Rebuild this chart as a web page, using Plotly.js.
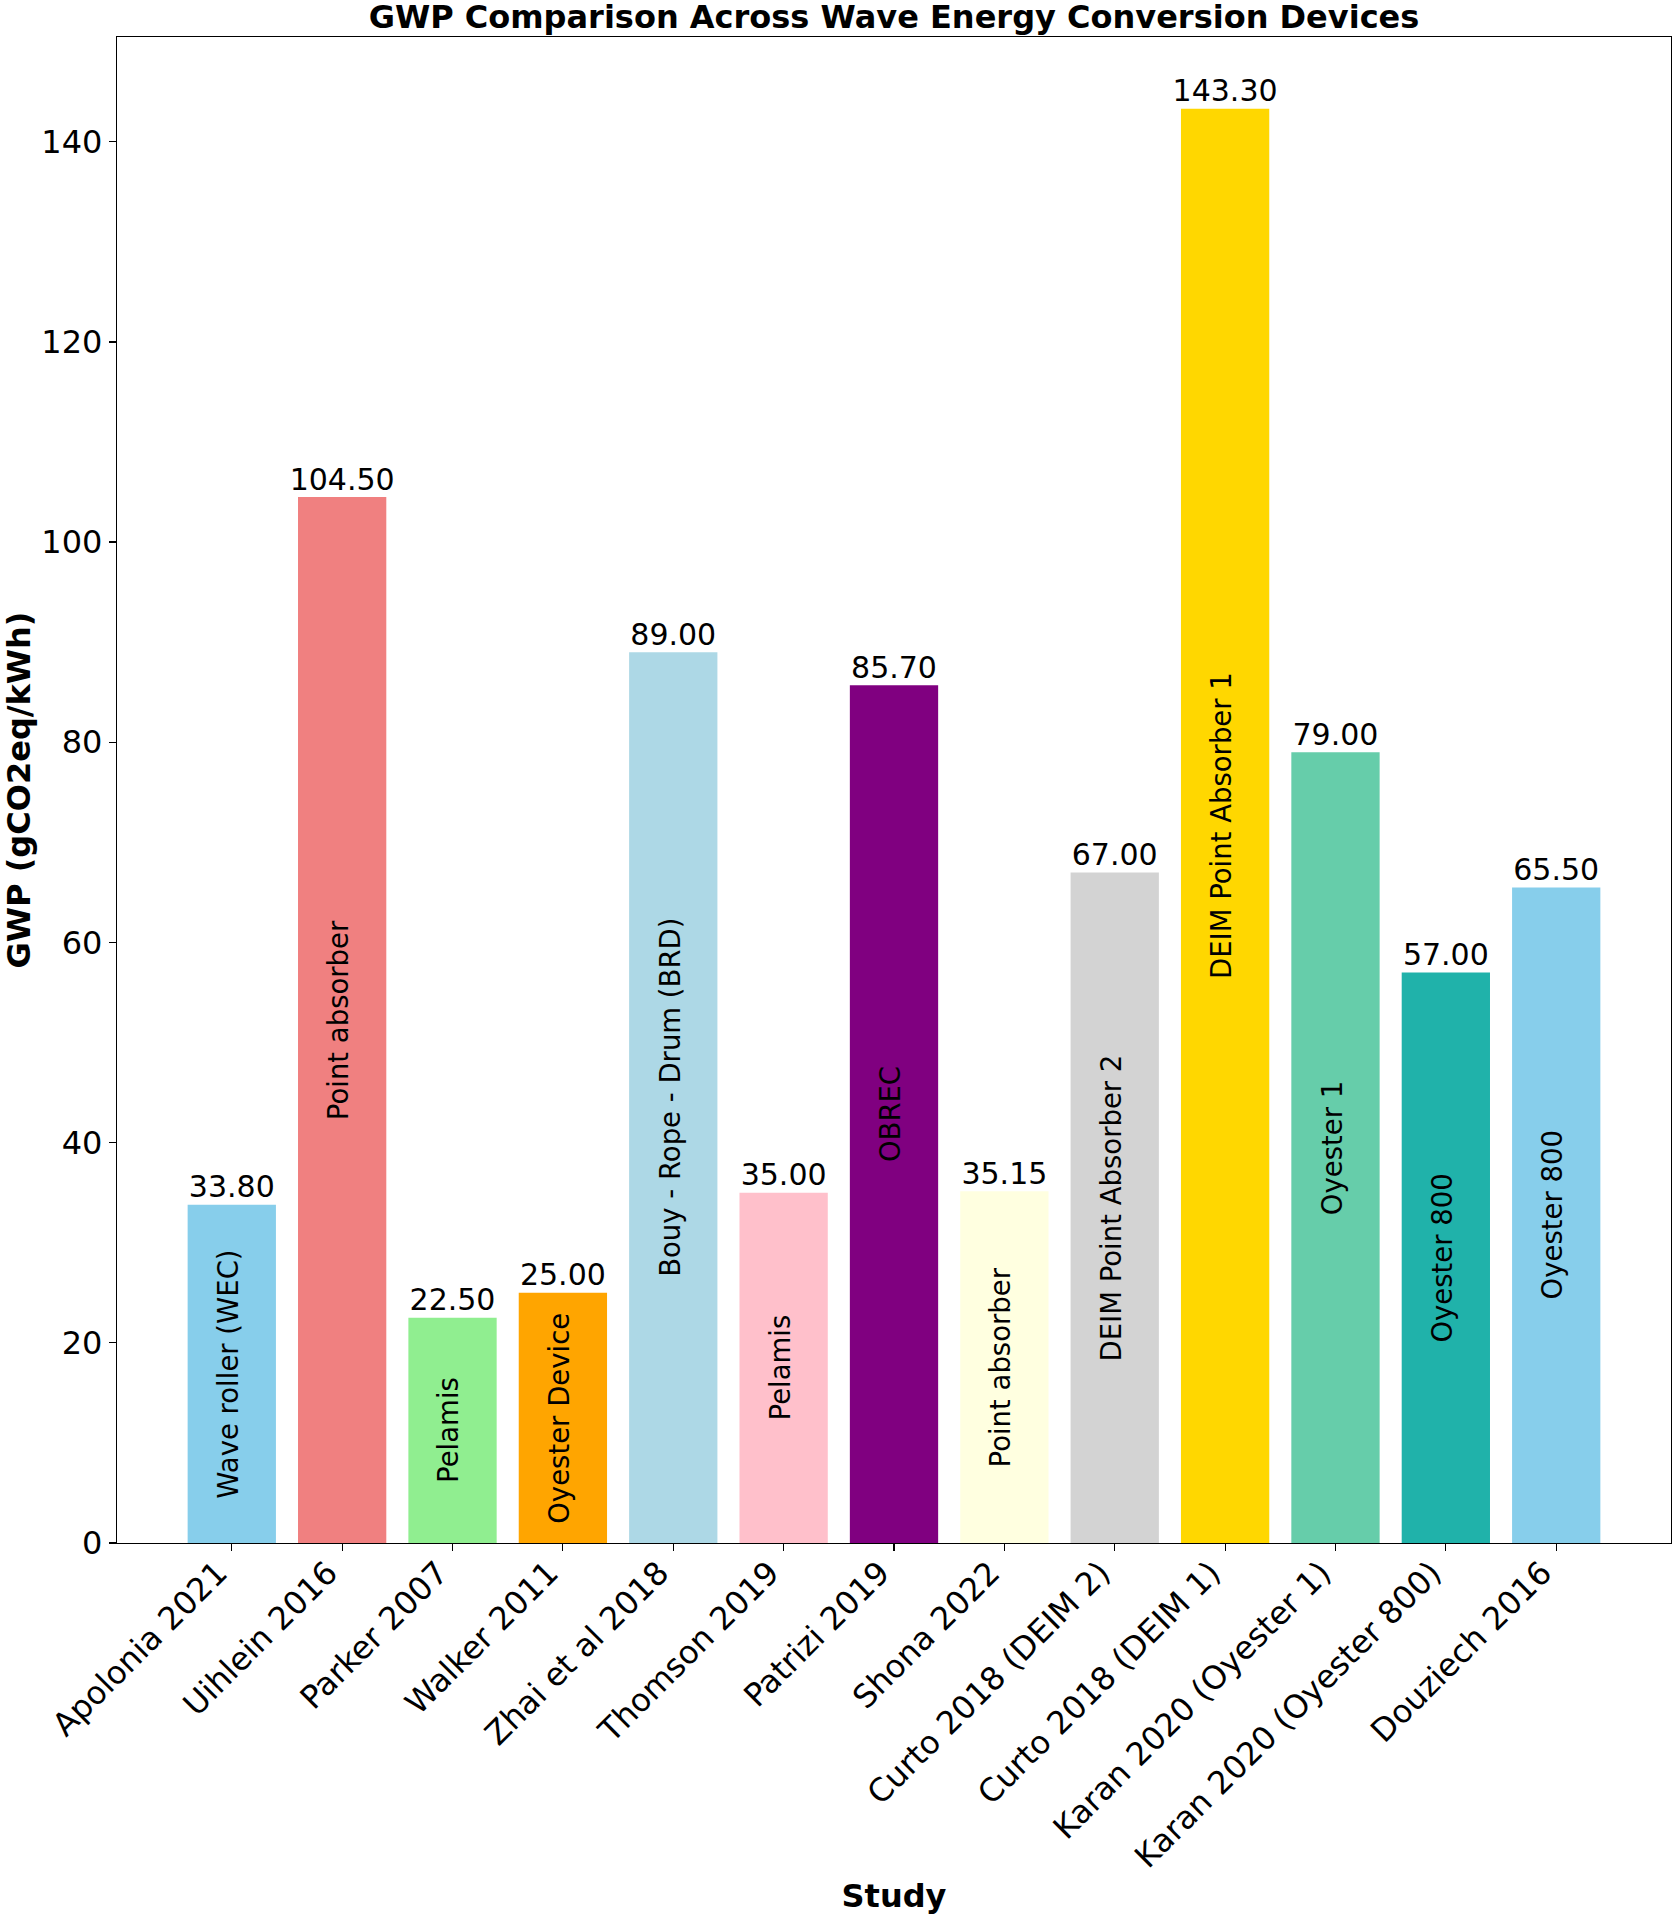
<!DOCTYPE html>
<html>
<head>
<meta charset="utf-8">
<script src="https://cdn.plot.ly/plotly-3.0.1.min.js"></script>
<style>
  html, body { margin: 0; padding: 0; background: #fff; }
  #gwp { width: 1676px; height: 1915px; }
</style>
</head>
<body>
<div id="gwp"></div>
<script>
// values
var studies = ['Apolonia 2021', 'Uihlein 2016', 'Parker 2007', 'Walker 2011', 'Zhai et al 2018',
    'Thomson 2019', 'Patrizi 2019', 'Shona 2022', 'Curto 2018 (DEIM 2)', 'Curto 2018 (DEIM 1)',
    'Karan 2020 (Oyester 1)', 'Karan 2020 (Oyester 800)', 'Douziech 2016'];
var gwp = [33.80, 104.50, 22.50, 25.00, 89.00, 35.00, 85.70, 35.15, 67.00, 143.30, 79.00, 57.00, 65.50];
var devices = ['Wave roller (WEC)', 'Point absorber', 'Pelamis', 'Oyester Device', 'Bouy - Rope - Drum (BRD)',
    'Pelamis', 'OBREC', 'Point absorber', 'DEIM Point Absorber 2', 'DEIM Point Absorber 1',
    'Oyester 1', 'Oyester 800', 'Oyester 800'];
var barColors = ['skyblue', 'lightcoral', 'lightgreen', 'orange', 'lightblue', 'pink', 'purple',
    'lightyellow', 'lightgray', 'gold', 'mediumaquamarine', 'lightseagreen', 'skyblue'];

var font = 'DejaVu Sans, Liberation Sans, sans-serif';

const bars = {
    x: studies,
    y: gwp,
    type: 'bar',
    width: 0.8,
    marker: {color: barColors, line: {width: 0}},
    hoverinfo: 'x+y',
    showlegend: false
};

const valueLabels = {
    x: studies,
    y: gwp,
    type: 'scatter',
    mode: 'text',
    text: gwp.map(v => v.toFixed(2)),
    textposition: 'top center',
    textfont: {family: font, size: 30, color: '#000'},
    hoverinfo: 'skip',
    showlegend: false
};

// device names written vertically in the middle of each bar
const deviceLabels = studies.map((s, i) => ({
    x: s,
    y: gwp[i] / 2,
    text: devices[i],
    textangle: -90,
    showarrow: false,
    xshift: -4,
    font: {family: font, size: 27.5, color: '#000'}
}));

const layout = {
    width: 1676,
    height: 1915,
    margin: {l: 117, r: 5, t: 37, b: 372},
    paper_bgcolor: '#fff',
    plot_bgcolor: '#fff',
    font: {family: font, color: '#000'},
    title: {
        text: '<b>GWP Comparison Across Wave Energy Conversion Devices</b>',
        font: {family: font, size: 32, color: '#000'},
        x: 0.5, xref: 'paper', xanchor: 'center',
        y: 1 - 17 / 1915, yref: 'container', yanchor: 'middle'
    },
    xaxis: {
        type: 'category',
        range: [-1.04, 13.04],
        tickangle: -45,
        tickfont: {family: font, size: 32, color: '#000'},
        ticklabelshift: -14,
        ticklabelstandoff: -10,
        ticks: 'outside', ticklen: 7, tickwidth: 1.2, tickcolor: '#000',
        showline: true, linecolor: '#000', linewidth: 1.2, mirror: true,
        showgrid: false, zeroline: false,
        automargin: false,
        title: {
            text: '<b>Study</b>',
            font: {family: font, size: 32, color: '#000'},
            standoff: 12
        }
    },
    yaxis: {
        range: [0, 150.465],
        dtick: 20,
        tickfont: {family: font, size: 32, color: '#000'},
        ticks: 'outside', ticklen: 7, tickwidth: 1.2, tickcolor: '#000',
        showline: true, linecolor: '#000', linewidth: 1.2, mirror: true,
        showgrid: false, zeroline: false,
        automargin: false,
        title: {
            text: '<b>GWP (gCO2eq/kWh)</b>',
            font: {family: font, size: 32, color: '#000'},
            standoff: 2
        }
    },
    annotations: deviceLabels
};

Plotly.newPlot('gwp', [bars, valueLabels], layout, {staticPlot: true, displayModeBar: false});
</script>
</body>
</html>
